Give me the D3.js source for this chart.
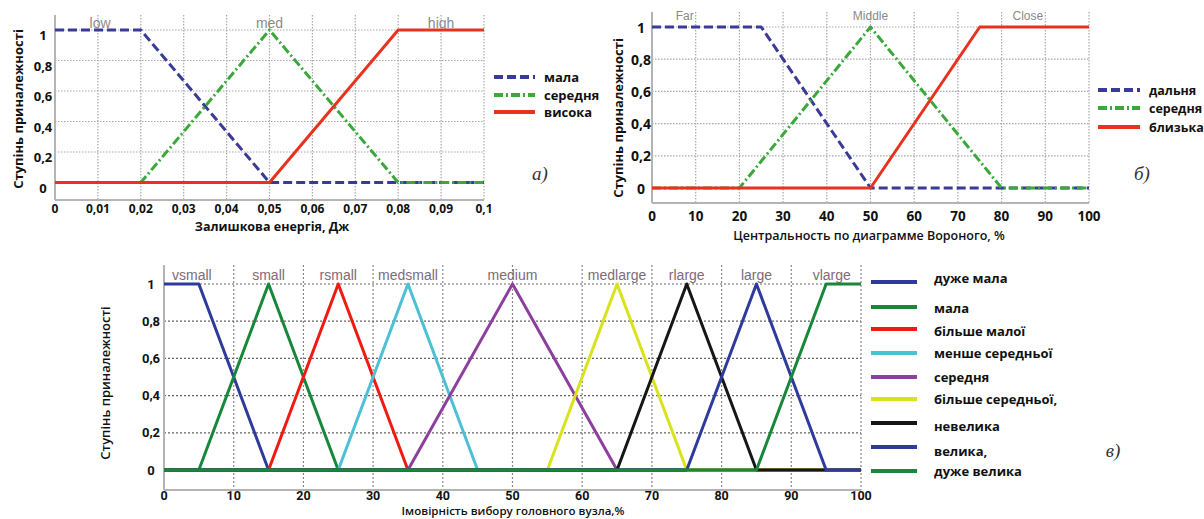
<!DOCTYPE html>
<html><head><meta charset="utf-8">
<script src="https://cdn.jsdelivr.net/npm/d3@7"></script>
<style>body{margin:0;background:#fff}svg{display:block}</style>
</head><body><svg id="c" width="1204" height="519"></svg>
<script>
// ---------- shared ----------
const yTicks = [0, 0.2, 0.4, 0.6, 0.8, 1];
const yTickLabels = ["0", "0,2", "0,4", "0,6", "0,8", "1"];
const yTitle = "Ступінь приналежності";

// ---------- panel а) ----------
const energyTicks = [0, 0.01, 0.02, 0.03, 0.04, 0.05, 0.06, 0.07, 0.08, 0.09, 0.1];
const energyTickLabels = ["0", "0,01", "0,02", "0,03", "0,04", "0,05", "0,06", "0,07", "0,08", "0,09", "0,1"];
const energyTerms = ["low", "med", "high"];
const energyTermPos = [0.0105, 0.05, 0.09];
const energyNames = ["мала", "середня", "висока"];
const energyLow = [[0, 1], [0.02, 1], [0.05, 0], [0.1, 0]];
const energyMed = [[0, 0], [0.02, 0], [0.05, 1], [0.08, 0], [0.1, 0]];
const energyHigh = [[0, 0], [0.05, 0], [0.08, 1], [0.1, 1]];

// ---------- panel б) ----------
const voronoiTicks = [0, 10, 20, 30, 40, 50, 60, 70, 80, 90, 100];
const voronoiTickLabels = ["0", "10", "20", "30", "40", "50", "60", "70", "80", "90", "100"];
const voronoiTerms = ["Far", "Middle", "Close"];
const voronoiTermPos = [7.5, 50, 86];
const voronoiNames = ["дальня", "середня", "близька"];
const voronoiFar = [[0, 1], [25, 1], [50, 0], [100, 0]];
const voronoiMiddle = [[0, 0], [20, 0], [50, 1], [80, 0], [100, 0]];
const voronoiClose = [[0, 0], [50, 0], [75, 1], [100, 1]];

// ---------- panel в) ----------
const probTicks = [0, 10, 20, 30, 40, 50, 60, 70, 80, 90, 100];
const probTickLabels = ["0", "10", "20", "30", "40", "50", "60", "70", "80", "90", "100"];
const probTerms = ["vsmall", "small", "rsmall", "medsmall", "medium", "medlarge", "rlarge", "large", "vlarge"];
const probTermPos = [4, 15, 25, 35, 50, 65, 75, 85, 95.8];
const probNames = ["дуже мала", "мала", "більше малої", "менше середньої", "середня", "більше середньої,", "невелика", "велика,", "дуже велика"];
const probVsmall = [[0, 1], [5, 1], [15, 0], [100, 0]];
const probSmall = [[0, 0], [5, 0], [15, 1], [25, 0], [100, 0]];
const probRsmall = [[0, 0], [15, 0], [25, 1], [35, 0], [100, 0]];
const probMedsmall = [[0, 0], [25, 0], [35, 1], [45, 0], [100, 0]];
const probMedium = [[0, 0], [35, 0], [50, 1], [65, 0], [100, 0]];
const probMedlarge = [[0, 0], [55, 0], [65, 1], [75, 0], [100, 0]];
const probRlarge = [[0, 0], [65, 0], [75, 1], [85, 0], [100, 0]];
const probLarge = [[0, 0], [75, 0], [85, 1], [95, 0], [100, 0]];
const probVlarge = [[0, 0], [85, 0], [95, 1], [100, 1]];

const svg = d3.select("#c");
const boldFont = "'Open Sans','Noto Sans',sans-serif";

function panel(cfg) {
  const g = svg.append("g");
  const x = d3.scaleLinear().domain([cfg.xTicks[0], cfg.xTicks[cfg.xTicks.length - 1]]).range(cfg.xr);
  const y = d3.scaleLinear().domain([0, 1]).range(cfg.yr);
  const [fx0, fx1] = cfg.xr;
  // grid
  g.selectAll(".vg").data(cfg.xTicks.slice(1)).join("line")
    .attr("x1", d => x(d)).attr("x2", d => x(d)).attr("y1", cfg.top).attr("y2", cfg.bottom)
    .attr("stroke", cfg.gridV).attr("stroke-width", 1.2).attr("stroke-dasharray", cfg.gridDash);
  g.selectAll(".hg").data(yTicks.slice(1)).join("line")
    .attr("x1", fx0).attr("x2", fx1).attr("y1", d => y(d)).attr("y2", d => y(d))
    .attr("stroke", cfg.gridH).attr("stroke-width", 1.2).attr("stroke-dasharray", cfg.gridDash);
  // frame
  g.append("line").attr("x1", fx0).attr("x2", fx0).attr("y1", cfg.top).attr("y2", cfg.bottom)
    .attr("stroke", "#b4b4b4").attr("stroke-width", 2);
  g.append("line").attr("x1", fx0).attr("x2", fx1).attr("y1", cfg.bottom).attr("y2", cfg.bottom)
    .attr("stroke", "#b4b4b4").attr("stroke-width", 2);
  // term labels
  g.selectAll(".term").data(cfg.terms).join("text")
    .attr("x", (d, i) => x(cfg.termPos[i])).attr("y", cfg.termY)
    .attr("text-anchor", "middle").attr("font-family", "'Liberation Sans',Arial,sans-serif")
    .attr("font-size", cfg.termSize).attr("fill", cfg.termColor).text(d => d);
  // curves
  const line = d3.line().x(d => x(d[0])).y(d => y(d[1]));
  cfg.series.forEach(s => {
    g.append("path").attr("d", line(s.data)).attr("fill", "none")
      .attr("stroke", s.color).attr("stroke-width", cfg.lw)
      .attr("stroke-dasharray", s.dash || null).attr("stroke-linejoin", "round");
  });
  // tick labels
  g.selectAll(".xt").data(cfg.xTicks).join("text")
    .attr("x", d => x(d)).attr("y", cfg.xTickY).attr("text-anchor", "middle")
    .attr("font-family", cfg.tickFont).attr("font-weight", "bold").attr("font-size", cfg.tickSize)
    .attr("fill", "#111").text((d, i) => cfg.xTickLabels[i]);
  g.selectAll(".yt").data(yTicks).join("text")
    .attr("x", cfg.yTickX).attr("y", d => y(d) + cfg.yTickDy).attr("text-anchor", "middle")
    .attr("dominant-baseline", "central")
    .attr("font-family", cfg.tickFont).attr("font-weight", "bold").attr("font-size", cfg.yTickSize || cfg.tickSize)
    .attr("fill", "#111").text((d, i) => yTickLabels[i]);
  // titles
  g.append("text").attr("x", cfg.xTitleX).attr("y", cfg.xTitleY).attr("text-anchor", "middle")
    .attr("font-family", boldFont).attr("font-weight", cfg.titleWeight).attr("font-size", cfg.titleSize)
    .attr("fill", "#111").text(cfg.xTitle);
  g.append("text").attr("transform", `translate(${cfg.yTitleX},${cfg.yTitleY}) rotate(-90)`)
    .attr("text-anchor", "middle").attr("dominant-baseline", "central")
    .attr("font-family", boldFont).attr("font-weight", cfg.yTitleWeight).attr("font-size", 13)
    .attr("fill", "#111").text(yTitle);
  // legend
  cfg.series.forEach((s, i) => {
    const ly = cfg.legY[i];
    g.append("line").attr("x1", cfg.legX[0]).attr("x2", cfg.legX[1]).attr("y1", ly).attr("y2", ly)
      .attr("stroke", s.color).attr("stroke-width", cfg.legLw).attr("stroke-dasharray", s.dash || null);
    g.append("text").attr("x", cfg.legTextX).attr("y", (cfg.legTextY || cfg.legY)[i])
      .attr("dominant-baseline", "central").attr("font-family", boldFont).attr("font-weight", "bold")
      .attr("font-size", cfg.legSize || 13).attr("fill", "#111").text(s.name);
  });
  g.append("text").attr("x", cfg.tag[0]).attr("y", cfg.tag[1]).attr("text-anchor", "middle")
    .attr("dominant-baseline", "central")
    .attr("font-family", "'Liberation Serif','DejaVu Serif',serif").attr("font-style", "italic")
    .attr("font-size", 19).attr("fill", "#333").text(cfg.tag[2]);
}

const dashBlue = "9,4";
const dashGreen = "9,3,2,3";

panel({
  xTicks: energyTicks, xTickLabels: energyTickLabels, xr: [55, 484], yr: [182.5, 30],
  top: 15, bottom: 200, gridV: "#a8a8a8", gridH: "#a8a8a8", gridDash: "1.5,1.5",
  terms: energyTerms, termPos: energyTermPos, termY: 28, termSize: 14, termColor: "#8a8a8a",
  lw: 3,
  series: [
    {data: energyLow, color: "#3a3a98", dash: dashBlue, name: energyNames[0]},
    {data: energyMed, color: "#3aa83a", dash: dashGreen, name: energyNames[1]},
    {data: energyHigh, color: "#e8321e", name: energyNames[2]}
  ],
  tickFont: boldFont, tickSize: 12, yTickSize: 13, xTickY: 213, yTickX: 43, yTickDy: 5,
  xTitle: "Залишкова енергія, Дж", xTitleX: 272, xTitleY: 231, titleWeight: "bold", titleSize: 12.5,
  yTitleX: 18, yTitleY: 109, yTitleWeight: "bold",
  legX: [494, 535], legY: [77, 95, 112], legLw: 4, legTextX: 544,
  tag: [540, 173, "а)"]
});

panel({
  xTicks: voronoiTicks, xTickLabels: voronoiTickLabels, xr: [652, 1089], yr: [188, 27],
  top: 12, bottom: 203, gridV: "#a8a8a8", gridH: "#a8a8a8", gridDash: "1.5,1.5",
  terms: voronoiTerms, termPos: voronoiTermPos, termY: 20, termSize: 12, termColor: "#8a8a8a",
  lw: 3,
  series: [
    {data: voronoiFar, color: "#3a3a98", dash: dashBlue, name: voronoiNames[0]},
    {data: voronoiMiddle, color: "#3aa83a", dash: dashGreen, name: voronoiNames[1]},
    {data: voronoiClose, color: "#e8321e", name: voronoiNames[2]}
  ],
  tickFont: boldFont, tickSize: 13.5, yTickSize: 14, xTickY: 221, yTickX: 641, yTickDy: 0,
  xTitle: "Центральность по диаграмме Вороного, %", xTitleX: 869, xTitleY: 240, titleWeight: 600, titleSize: 12.5,
  yTitleX: 618, yTitleY: 118, yTitleWeight: "bold",
  legX: [1098, 1140], legY: [90, 108, 127], legLw: 4, legTextX: 1149, legSize: 12.5,
  tag: [1142, 173, "б)"]
});

panel({
  xTicks: probTicks, xTickLabels: probTickLabels, xr: [164, 861], yr: [470, 284],
  top: 265, bottom: 490, gridV: "#888", gridH: "#666", gridDash: "2,2",
  terms: probTerms, termPos: probTermPos, termY: 280, termSize: 14, termColor: "#7d6b78",
  lw: 3,
  series: [
    {data: probVsmall, color: "#2e3a9c", name: probNames[0]},
    {data: probSmall, color: "#17883a", name: probNames[1]},
    {data: probRsmall, color: "#f01a12", name: probNames[2]},
    {data: probMedsmall, color: "#4cc0d4", name: probNames[3]},
    {data: probMedium, color: "#8d3f9d", name: probNames[4]},
    {data: probMedlarge, color: "#d9e21a", name: probNames[5]},
    {data: probRlarge, color: "#161616", name: probNames[6]},
    {data: probLarge, color: "#2e3a9c", name: probNames[7]},
    {data: probVlarge, color: "#17883a", name: probNames[8]}
  ],
  tickFont: "'Roboto','Noto Sans',sans-serif", tickSize: 12.5, yTickSize: 13, xTickY: 500, yTickX: 151, yTickDy: 0,
  xTitle: "Імовірність вибору головного вузла,%", xTitleX: 513, xTitleY: 515, titleWeight: 600, titleSize: 11.5,
  yTitleX: 105, yTitleY: 383, yTitleWeight: 600,
  legX: [871, 917], legY: [282, 307, 329, 353, 377, 399, 423, 447, 471], legLw: 4, legTextX: 934,
  legTextY: [278, 308, 331, 353, 377, 399, 426, 451, 471],
  tag: [1113, 450, "в)"]
});
</script></body></html>
